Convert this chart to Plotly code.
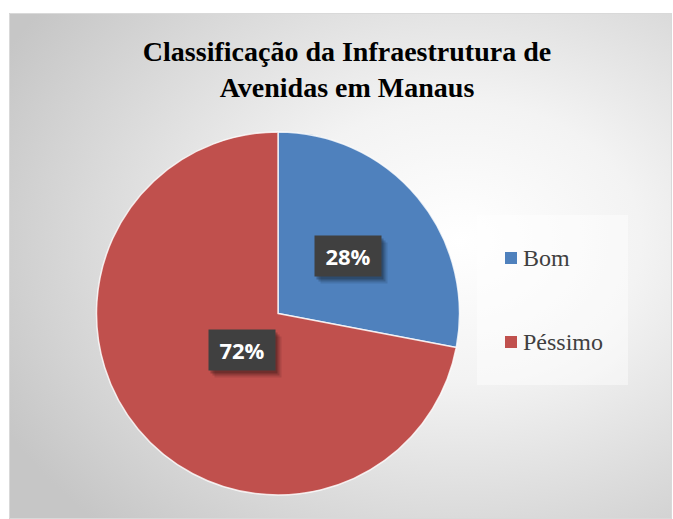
import math, base64
import plotly.graph_objects as go

categories = ["Bom", "Péssimo"]
values = [28, 72]
colors = ["#4F81BD", "#C0504D"]
title_text = "Classificação da Infraestrutura de<br>Avenidas em Manaus"

W, H = 673, 519
def px(x): return x / W
def py(y): return 1 - y / H

SERIF = "Times New Roman, Liberation Serif, serif"

# pie geometry (pixels)
CX, CY, R = 278, 313.5, 181.5

svg = f'''<svg xmlns="http://www.w3.org/2000/svg" width="{W}" height="{H}">
<defs><radialGradient id="g" cx="0.68" cy="0.45" r="0.78">
<stop offset="0" stop-color="#ffffff"/><stop offset="0.35" stop-color="#f3f3f3"/><stop offset="1" stop-color="#c6c6c6"/>
</radialGradient></defs>
<rect x="0" y="0" width="{W}" height="{H}" fill="url(#g)"/></svg>'''
src = "data:image/svg+xml;base64," + base64.b64encode(svg.encode()).decode()

fig = go.Figure()
fig.add_trace(go.Pie(
    labels=categories, values=values, sort=False, direction="clockwise", rotation=0,
    marker=dict(colors=colors, line=dict(color="rgba(255,255,255,0.8)", width=1.5)),
    textinfo="none", showlegend=False,
    domain=dict(x=[px(CX - R), px(CX + R)], y=[py(CY + R), py(CY - R)]),
))

panel = dict(x0=9, y0=13, x1=672, y1=519)
images = [dict(source=src, xref="paper", yref="paper", x=px(panel["x0"]), y=py(panel["y0"]),
               sizex=px(panel["x1"]) - px(panel["x0"]), sizey=py(panel["y0"]) - py(panel["y1"]),
               sizing="stretch", xanchor="left", yanchor="top", layer="below")]

shapes = [
    dict(type="rect", xref="paper", yref="paper", x0=px(9.5), y0=py(518.5), x1=px(671.5), y1=py(13.5),
         line=dict(color="#d9d9d9", width=1), fillcolor="rgba(0,0,0,0)", layer="below"),
    dict(type="rect", xref="paper", yref="paper", x0=px(477), y0=py(385), x1=px(628), y1=py(215),
         line=dict(width=0), fillcolor="rgba(255,255,255,0.45)", layer="below"),
]

annotations = []
# data labels at mid-angle, half radius
total = sum(values)
cum = 0
for v in values:
    mid = (cum + v / 2) / total * 2 * math.pi
    cum += v
    lx = CX + 0.5 * R * math.sin(mid)
    ly = CY - 0.5 * R * math.cos(mid)
    pct = f"{round(v / total * 100)}%"
    for k, a in ((7, 0.10), (5, 0.16), (3, 0.22)):
        annotations.append(dict(x=px(lx + k - 1), y=py(ly + k), xref="paper", yref="paper", text="",
                                showarrow=False, width=64, height=38, bgcolor=f"rgba(0,0,0,{a})"))
    annotations.append(dict(x=px(lx), y=py(ly), xref="paper", yref="paper", text=f"<b>{pct}</b>",
                            showarrow=False, width=64, height=38, bgcolor="#404040",
                            font=dict(family="Open Sans", size=22, color="white")))

# legend
leg_y = [258, 342]
for i, (c, col) in enumerate(zip(categories, colors)):
    y = leg_y[i]
    shapes.append(dict(type="rect", xref="paper", yref="paper", x0=px(505), x1=px(517),
                       y0=py(y + 6), y1=py(y - 6), fillcolor=col, line=dict(width=0)))
    annotations.append(dict(x=px(521), y=py(y), xref="paper", yref="paper", text=c,
                            xanchor="left", yanchor="middle", showarrow=False,
                            font=dict(family=SERIF, size=24, color="#404040")))

fig.update_layout(
    width=W, height=H, margin=dict(l=0, r=0, t=0, b=0),
    paper_bgcolor="white", plot_bgcolor="rgba(0,0,0,0)",
    title=dict(text=title_text, x=px(347), xanchor="center", y=py(61), yanchor="middle",
               yref="container", font=dict(family=SERIF, size=28, color="black", weight="bold")),
    images=images, shapes=shapes, annotations=annotations, showlegend=False,
)
fig.write_html("out.html")
